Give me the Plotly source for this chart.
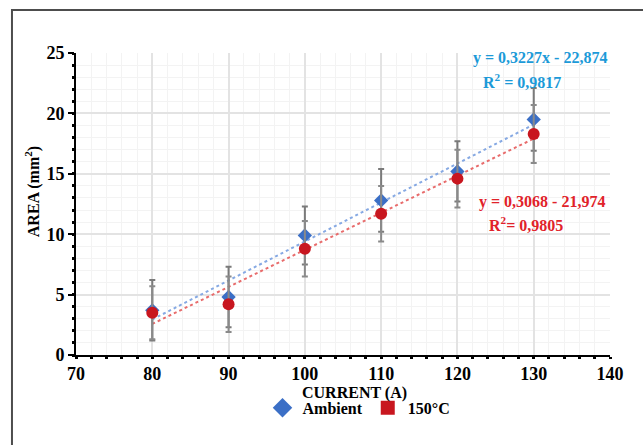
import plotly.graph_objects as go

# Welding current (A) and measured areas (mm²)
current = [80, 90, 100, 110, 120, 130]
area_ambient = [3.7, 4.8, 9.9, 12.8, 15.2, 19.5]
err_ambient = [2.5, 2.5, 2.4, 2.6, 2.5, 2.6]
area_150 = [3.5, 4.2, 8.8, 11.7, 14.6, 18.3]
err_150 = [2.2, 2.3, 2.3, 2.3, 2.4, 2.4]

# Linear trend equations as printed on the chart
fit_ambient = (0.3227, -22.874)
fit_150 = (0.3068, -21.974)
fit_x = [80, 130]

x_ticks = [70, 80, 90, 100, 110, 120, 130, 140]
y_ticks = [0, 5, 10, 15, 20, 25]

BLUE = "#3B6FC6"
RED = "#C8161F"
BLUE_TXT = "#1C9AD8"
RED_TXT = "#E1222A"
SERIF = "Liberation Serif"

fig = go.Figure()

# trend lines
fig.add_trace(go.Scatter(
    x=fit_x, y=[fit_ambient[0] * v + fit_ambient[1] for v in fit_x],
    mode="lines", line=dict(color="#86A9E3", width=2, dash="dot"),
    showlegend=False, hoverinfo="skip"))
fig.add_trace(go.Scatter(
    x=fit_x, y=[fit_150[0] * v + fit_150[1] for v in fit_x],
    mode="lines", line=dict(color="#E86C6C", width=2, dash="dot"),
    showlegend=False, hoverinfo="skip"))

# measured points with error bars
fig.add_trace(go.Scatter(
    x=current, y=area_ambient, mode="markers",
    marker=dict(symbol="diamond", size=11, color=BLUE),
    error_y=dict(type="data", array=err_ambient, color="#7A7A7A", thickness=2, width=3),
    showlegend=False))
fig.add_trace(go.Scatter(
    x=current, y=area_150, mode="markers",
    marker=dict(symbol="circle", size=12, color=RED),
    error_y=dict(type="data", array=err_150, color="#8A8A8A", thickness=2, width=3),
    showlegend=False))

# legend entries
fig.add_trace(go.Scatter(x=[None], y=[None], mode="markers", name="Ambient",
                         marker=dict(symbol="diamond", size=15, color=BLUE)))
fig.add_trace(go.Scatter(x=[None], y=[None], mode="markers", name="150°C",
                         marker=dict(symbol="square", size=14, color=RED)))

axis_common = dict(
    showline=True, linecolor="black", linewidth=2,
    ticks="outside", tickwidth=2, tickcolor="black",
    tickfont=dict(family=SERIF, size=18, color="black", weight="bold"),
    showgrid=True, gridcolor="#E3E3E3", gridwidth=1.5,
    zeroline=False,
)

fig.update_xaxes(
    range=[70, 140], tickvals=x_ticks, ticklen=1, **axis_common,
    minor=dict(dtick=2, ticks="outside", ticklen=2, tickwidth=3, tickcolor="black",
               showgrid=True, gridcolor="#F3F3F3", gridwidth=1),
)
fig.update_yaxes(
    range=[0, 25], tickvals=y_ticks, ticklen=6, **axis_common,
    minor=dict(dtick=1, ticks="outside", ticklen=2, tickwidth=3, tickcolor="black",
               showgrid=True, gridcolor="#F3F3F3", gridwidth=1),
)


def note(text, x, y, color, size=16, angle=0):
    return dict(text=text, x=x, y=y, xref="paper", yref="paper",
                xanchor="center", yanchor="middle", textangle=angle,
                showarrow=False, font=dict(family=SERIF, size=size, color=color))


annotations = [
    note("<b>CURRENT (A)</b>", 0.522, -0.125, "black", 16),
    note("<b>AREA (mm<sup>2</sup>)</b>", -0.08, 0.54, "black", 16, -90),
    note("<b>y = 0,3227x - 22,874</b>", 0.869, 0.983, BLUE_TXT),
    note("<b>R<sup>2</sup> = 0,9817</b>", 0.835, 0.908, BLUE_TXT),
    note("<b>y = 0,3068 - 21,974</b>", 0.873, 0.507, RED_TXT),
    note("<b>R<sup>2</sup>= 0,9805</b>", 0.843, 0.435, RED_TXT),
]

fig.update_layout(
    width=643, height=445,
    margin=dict(l=76, r=33, t=53, b=90),
    plot_bgcolor="white", paper_bgcolor="white",
    annotations=annotations,
    legend=dict(orientation="h", x=0.53, xanchor="center", y=-0.175, yanchor="middle",
                font=dict(family=SERIF, size=16, color="black", weight="bold"),
                itemwidth=30, tracegroupgap=0, bgcolor="rgba(0,0,0,0)"),
    shapes=[dict(type="rect", xref="paper", yref="paper",
                 x0=-0.1199, y0=-0.5, x1=1.2, y1=1.142,
                 line=dict(color="#4D4D4D", width=2), layer="below")],
)

fig.write_html("out.html")
